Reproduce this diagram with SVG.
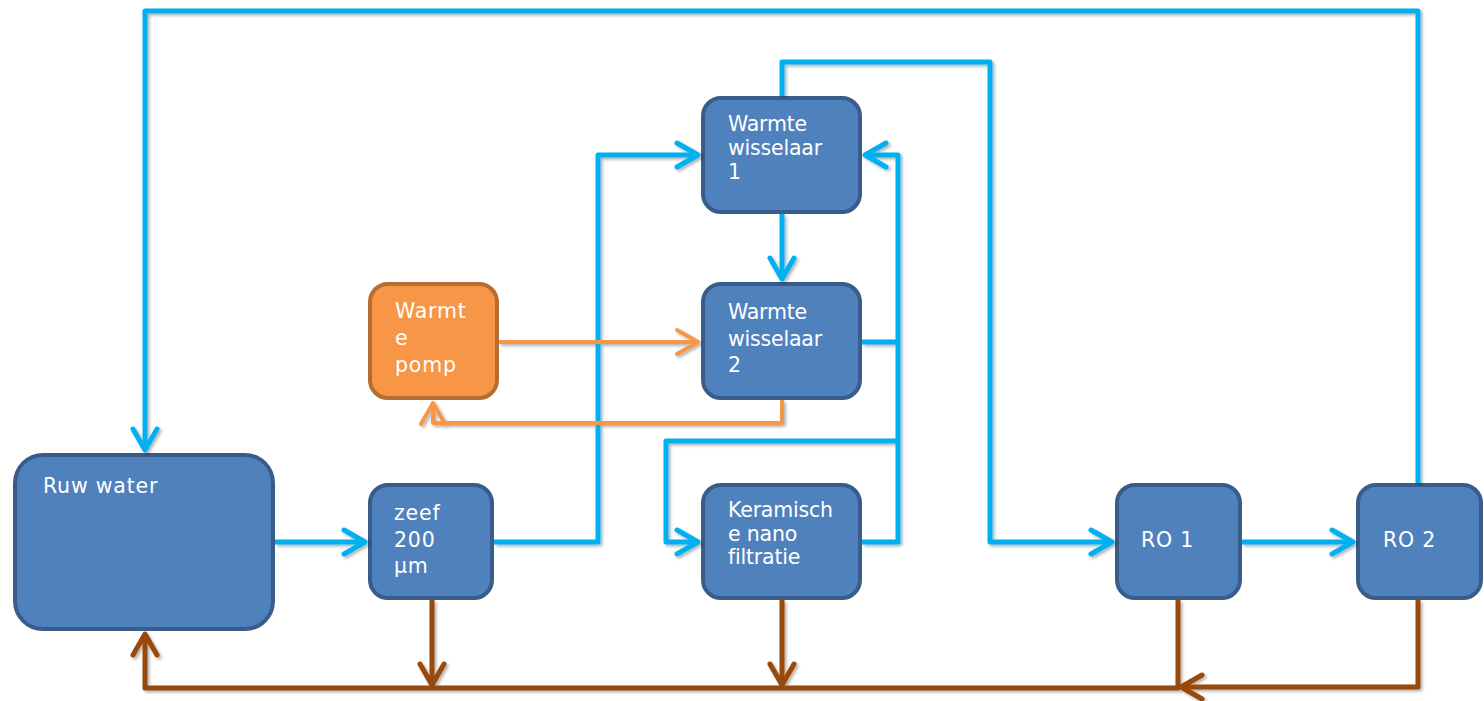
<svg xmlns="http://www.w3.org/2000/svg" width="1484" height="701" viewBox="0 0 1484 701">
<style>
.node{fill:#4F81BD;stroke:#385D8A;stroke-width:4}
.pomp{fill:#F79646;stroke:#B66D31;stroke-width:4}
.t{font-family:"DejaVu Sans","Liberation Sans",sans-serif;font-size:20.5px;fill:#FFFFFF}
.ls{letter-spacing:0.8px}
.nls{letter-spacing:-0.2px}
.c{fill:none;stroke-linejoin:round;stroke-linecap:butt}
.blue{stroke:#00B0F0;stroke-width:5}
.brown{stroke:#984807;stroke-width:5}
.orange{stroke:#F79646;stroke-width:4}
</style>
<defs>
<filter id="sh" x="-5%" y="-5%" width="110%" height="110%">
<feDropShadow dx="2" dy="2" stdDeviation="1.5" flood-color="#000" flood-opacity="0.3"/>
</filter>
<marker id="ab" viewBox="-28 -16 32 32" refX="0" refY="0" markerWidth="32" markerHeight="32" markerUnits="userSpaceOnUse" orient="auto">
<path d="M-21,-12 L0,0 L-21,12" fill="none" stroke="#00B0F0" stroke-width="5" stroke-linecap="round" stroke-linejoin="round"/>
</marker>
<marker id="abr" viewBox="-28 -16 32 32" refX="0" refY="0" markerWidth="32" markerHeight="32" markerUnits="userSpaceOnUse" orient="auto">
<path d="M-21,-12 L0,0 L-21,12" fill="none" stroke="#984807" stroke-width="5" stroke-linecap="round" stroke-linejoin="round"/>
</marker>
<marker id="ao" viewBox="-28 -16 32 32" refX="0" refY="0" markerWidth="32" markerHeight="32" markerUnits="userSpaceOnUse" orient="auto">
<path d="M-21,-12 L0,0 L-21,12" fill="none" stroke="#F79646" stroke-width="4" stroke-linecap="round" stroke-linejoin="round"/>
</marker>
</defs>
<rect width="1484" height="701" fill="#FFFFFF"/>

<g id="node-ruw-water">
<rect class="node" x="15" y="455" width="258" height="174" rx="28"/>
<text class="t ls" x="43" y="493">Ruw water</text>
</g>
<g id="node-zeef">
<rect class="node" x="370" y="485" width="122" height="113" rx="18"/>
<text class="t ls"><tspan x="394" y="520">zeef</tspan><tspan x="394" y="546.5">200</tspan><tspan x="394" y="573">µm</tspan></text>
</g>
<g id="node-warmtepomp">
<rect class="pomp" x="370" y="284" width="127" height="114" rx="18"/>
<text class="t ls"><tspan x="395" y="318">Warmt</tspan><tspan x="395" y="345">e</tspan><tspan x="395" y="372">pomp</tspan></text>
</g>
<g id="node-ww1">
<rect class="node" x="703" y="98" width="157" height="114" rx="18"/>
<text class="t nls"><tspan x="728" y="131">Warmte</tspan><tspan x="728" y="155">wisselaar</tspan><tspan x="728" y="179">1</tspan></text>
</g>
<g id="node-ww2">
<rect class="node" x="703" y="284" width="157" height="114" rx="18"/>
<text class="t nls"><tspan x="728" y="319">Warmte</tspan><tspan x="728" y="346">wisselaar</tspan><tspan x="728" y="372">2</tspan></text>
</g>
<g id="node-keramisch">
<rect class="node" x="703" y="485" width="157" height="113" rx="18"/>
<text class="t nls"><tspan x="728" y="517">Keramisch</tspan><tspan x="728" y="540.5">e nano</tspan><tspan x="728" y="564">filtratie</tspan></text>
</g>
<g id="node-ro1">
<rect class="node" x="1117" y="485" width="123" height="113" rx="18"/>
<text class="t ls" x="1141" y="547">RO 1</text>
</g>
<g id="node-ro2">
<rect class="node" x="1358" y="485" width="123" height="113" rx="18"/>
<text class="t ls" x="1383" y="547">RO 2</text>
</g>

<g id="connectors" filter="url(#sh)">
<path class="c blue" d="M1418,483 L1418,11 L145,11 L145,450" marker-end="url(#ab)"/>
<path class="c blue" d="M275,542 L365,542" marker-end="url(#ab)"/>
<path class="c blue" d="M494,542 L598,542 L598,155 L698,155" marker-end="url(#ab)"/>
<path class="c blue" d="M782,96 L782,62 L990,62 L990,542 L1112,542" marker-end="url(#ab)"/>
<path class="c blue" d="M782,214 L782,279" marker-end="url(#ab)"/>
<path class="c blue" d="M862,342 L898,342"/>
<path class="c blue" d="M862,542 L898,542 L898,155 L865,155" marker-end="url(#ab)"/>
<path class="c blue" d="M898,441 L666,441 L666,542 L698,542" marker-end="url(#ab)"/>
<path class="c blue" d="M1242,542 L1353,542" marker-end="url(#ab)"/>
<path class="c orange" d="M499,342 L698,342" marker-end="url(#ao)"/>
<path class="c orange" d="M782,400 L782,423 L433,423 L433,403" marker-end="url(#ao)"/>
<path class="c brown" d="M1178,600 L1178,688 L145,688 L145,634" marker-end="url(#abr)"/>
<path class="c brown" d="M432,600 L432,685" marker-end="url(#abr)"/>
<path class="c brown" d="M782,600 L782,685" marker-end="url(#abr)"/>
<path class="c brown" d="M1418,600 L1418,687 L1181,687" marker-end="url(#abr)"/>
</g>
</svg>
